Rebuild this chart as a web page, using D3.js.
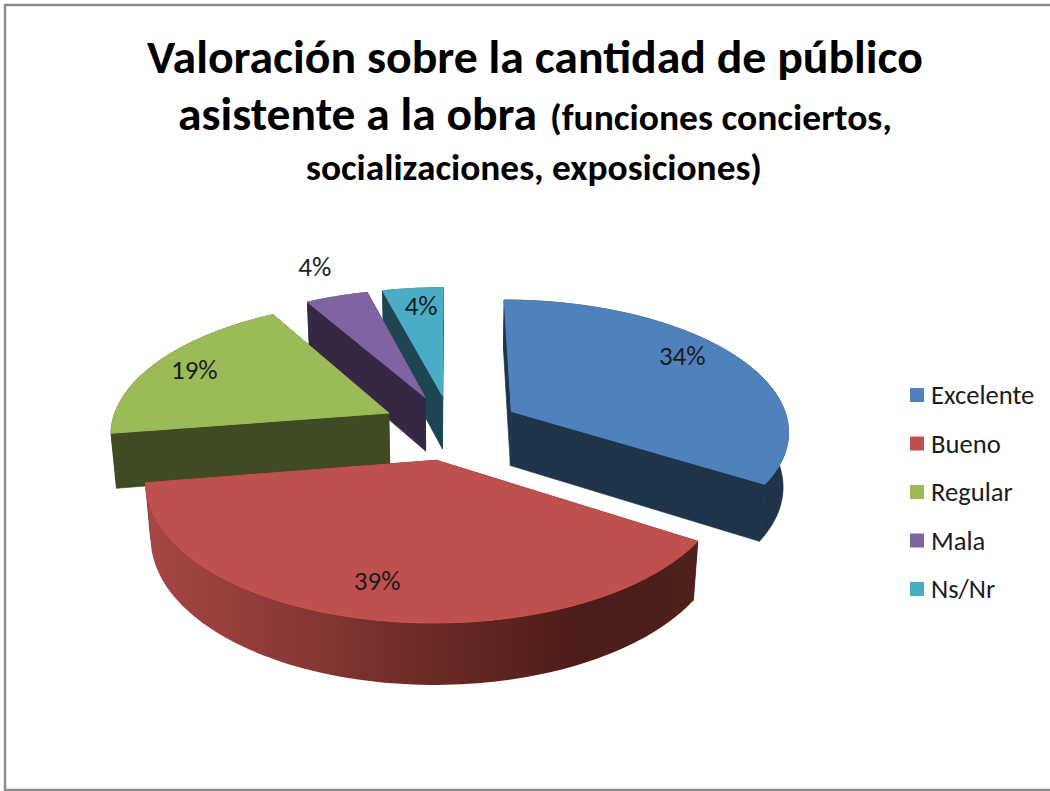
<!DOCTYPE html>
<html><head><meta charset="utf-8">
<script src="https://cdn.jsdelivr.net/npm/d3@7/dist/d3.min.js"></script>
<style>html,body{margin:0;padding:0;background:#fff}svg{display:block}text{font-family:Carlito,Lato,"Open Sans",sans-serif}</style>
</head><body><svg id="c" width="1050" height="791"></svg>
<script>
const categories = ["Excelente","Bueno","Regular","Mala","Ns/Nr"];
const values = [34,38.5,19.2,4.2,4.1];
const labels = ["34%","39%","19%","4%","4%"];
const topColors = ["#4f81bd","#c0504d","#9bbb59","#8064a2","#4bacc6"];
const wallColors = ["#1f3349","#4f1e1c","#404a23","#342842","#1e4551"];
const labelRadius = [0.825,0.79,0.835,1.33,0.815];
const labelTurn = [-5.9,1.3,-0.25,0.6,1.0];
const drawOrder = [4,3,0,2,1];

const cx=451, cy=427, R=278, explode=70, depth=63, tilt=28*Math.PI/180, D=1800;
const svg=d3.select("#c");
svg.append("rect").attr("x",5).attr("y",5).attr("width",1200).attr("height",785)
  .attr("fill","#fff").attr("stroke","#8c8c8c").attr("stroke-width",2.5);

const defs=svg.append("defs");
const grad=defs.append("linearGradient").attr("id","redWall");
[[0,"#a54745"],[0.25,"#8c3a37"],[0.5,"#6d2a28"],[0.8,"#4b1c1a"],[1,"#50201d"]]
  .forEach(s=>grad.append("stop").attr("offset",s[0]).attr("stop-color",s[1]));

function project(x,y,z){
  const v=y*Math.sin(tilt)-z*Math.cos(tilt), w=y*Math.cos(tilt)+z*Math.sin(tilt), s=D/(D-w);
  return [cx+x*s, cy+v*s];
}
const pieGen=d3.pie().sort(null).value(d=>d);
const arcs=pieGen(values);
const line=d3.line();
function plan(a,r,mid){
  return [explode*Math.sin(mid)+r*Math.sin(a), -explode*Math.cos(mid)-r*Math.cos(a)];
}
function rim(d,z,rev){
  const n=Math.max(8,Math.ceil((d.endAngle-d.startAngle)*40));
  const mid=(d.startAngle+d.endAngle)/2;
  const scale=d3.scaleLinear().domain([0,n]).range(rev?[d.endAngle,d.startAngle]:[d.startAngle,d.endAngle]);
  return d3.range(n+1).map(i=>{const p=plan(scale(i),R,mid);return project(p[0],p[1],z);});
}
const g=svg.append("g");
drawOrder.forEach(i=>{
  const d=arcs[i], mid=(d.startAngle+d.endAngle)/2;
  const a0=plan(0,0,mid), apexT=project(a0[0],a0[1],0), apexB=project(a0[0],a0[1],-depth);
  const wall=wallColors[i];
  [d.startAngle,d.endAngle].forEach(a=>{
    const p=plan(a,R,mid);
    g.append("path").attr("fill",wall).attr("stroke",wall).attr("stroke-width",0.7)
      .attr("d",line([apexT,project(p[0],p[1],0),project(p[0],p[1],-depth),apexB])+"Z");
  });
  g.append("path").attr("fill",i===1?"url(#redWall)":wall)
    .attr("stroke",i===1?"none":wall).attr("stroke-width",0.7)
    .attr("d",line(rim(d,0,false).concat(rim(d,-depth,true)))+"Z");
  g.append("path").attr("fill",topColors[i]).attr("stroke",topColors[i]).attr("stroke-width",1)
    .attr("d",line([apexT].concat(rim(d,0,false)))+"Z");
});
arcs.forEach((d,i)=>{
  const mid=(d.startAngle+d.endAngle)/2;
  const p=plan(mid+labelTurn[i]*Math.PI/180,R*labelRadius[i],mid), q=project(p[0],p[1],0);
  g.append("text").attr("x",q[0]).attr("y",q[1]+9).attr("text-anchor","middle")
    .attr("font-size",27).attr("fill","#1c1c1c").text(labels[i]);
});
// title
[["Valoración sobre la cantidad de público",147,776,73,47],
 ["asistente a la obra",178,359,130,47],
 ["(funciones conciertos,",550,342,130,36],
 ["socializaciones, exposiciones)",306,456,180,36]].forEach(t=>{
  svg.append("text").attr("x",t[1]).attr("y",t[3]).attr("font-size",t[4]).attr("font-weight",700)
    .attr("fill","#000").attr("textLength",t[2]).attr("lengthAdjust","spacingAndGlyphs").text(t[0]);
});
// legend
const legendY=d3.scalePoint().domain(categories).range([395,589]);
categories.forEach((c,i)=>{
  const y=legendY(c);
  svg.append("rect").attr("x",910).attr("y",y-7).attr("width",14).attr("height",14).attr("fill",topColors[i]);
  svg.append("text").attr("x",931).attr("y",y+9).attr("font-size",26.6).attr("fill","#1c1c1c").text(c);
});
</script></body></html>
